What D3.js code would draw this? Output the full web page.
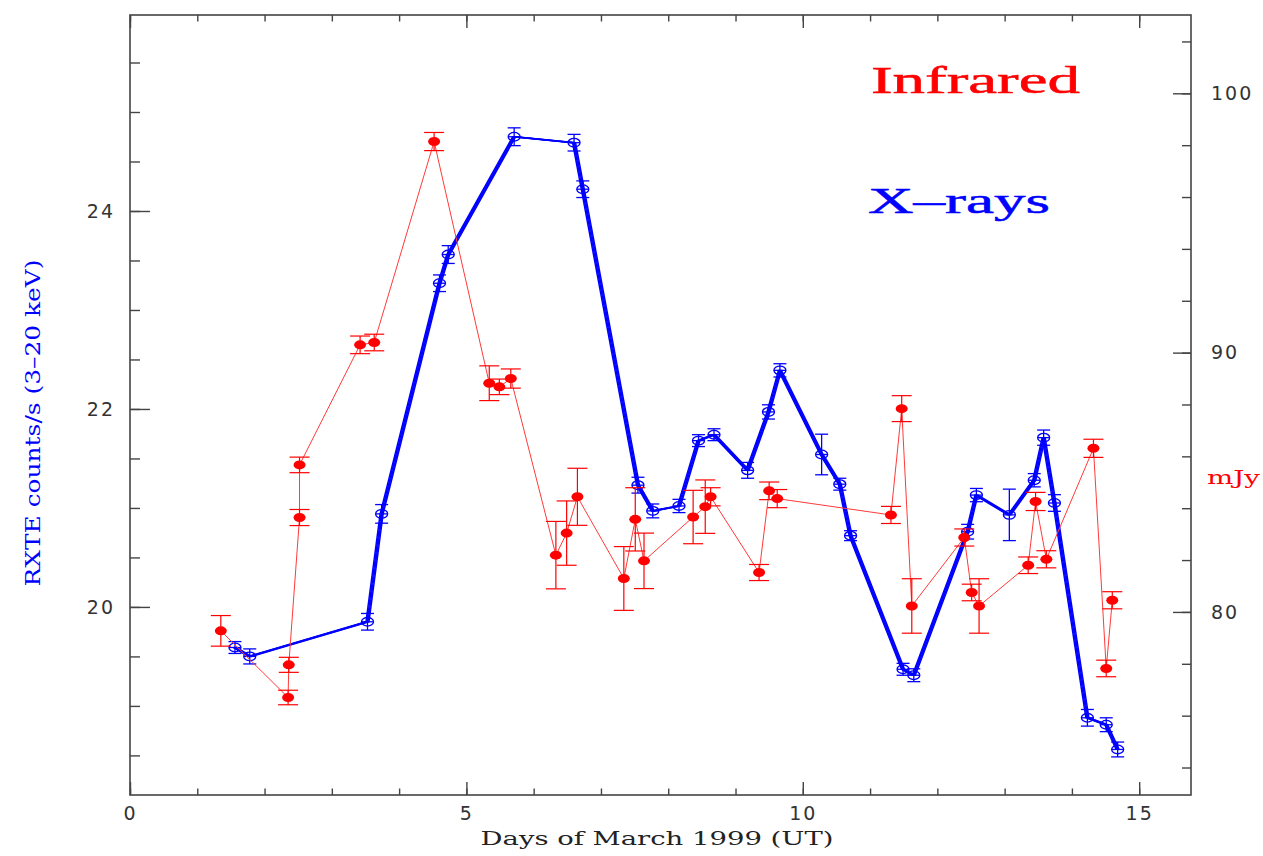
<!DOCTYPE html>
<html>
<head>
<meta charset="utf-8">
<script src="https://cdn.jsdelivr.net/npm/d3@7"></script>
<style>
  html, body { margin: 0; padding: 0; background: #fff; }
  svg { display: block; }
</style>
</head>
<body>
<svg id="chart"></svg>
<script>
// X-ray light curve (left axis, RXTE counts/s)
const xrayDay  = [1.56, 1.78, 3.53, 3.74, 4.60, 4.73, 5.71, 6.60, 6.73, 7.55, 7.77, 8.16, 8.45, 8.68, 9.18, 9.49,
                  9.66, 10.28, 10.55, 10.71, 11.49, 11.65, 12.45, 12.58, 13.07, 13.44, 13.58, 13.74, 14.23, 14.51, 14.68];
const xrayRate = [19.59, 19.50, 19.85, 20.94, 23.27, 23.56, 24.75, 24.69, 24.22, 21.23, 20.97, 21.02, 21.68, 21.74, 21.38, 21.97,
                  22.39, 21.54, 21.24, 20.72, 19.37, 19.31, 20.76, 21.13, 20.93, 21.28, 21.71, 21.05, 18.88, 18.81, 18.56];
const xrayErr  = [0.06, 0.076, 0.084, 0.094, 0.084, 0.09, 0.09, 0.084, 0.084, 0.08, 0.07, 0.067, 0.06, 0.06, 0.08, 0.072,
                  0.067, 0.205, 0.06, 0.05, 0.06, 0.065, 0.074, 0.067, 0.26, 0.067, 0.077, 0.084, 0.084, 0.07, 0.075];

// Infrared light curve (right axis, mJy)
const irDay  = [1.35, 2.35, 2.36, 2.52, 2.52, 3.42, 3.63, 4.52, 5.34, 5.49, 5.66, 6.33, 6.49, 6.65, 7.34, 7.51, 7.64, 8.37,
                8.55, 8.63, 9.35, 9.50, 9.62, 11.31, 11.47, 11.62, 12.40, 12.51, 12.62, 13.35, 13.46, 13.62, 14.32, 14.51, 14.60];
const irFlux = [79.27, 76.70, 77.96, 83.64, 85.67, 90.30, 90.39, 98.14, 88.82, 88.68, 89.00, 82.19, 83.04, 84.44, 81.29, 83.57, 81.97, 83.66,
                84.06, 84.44, 81.52, 84.67, 84.37, 83.74, 87.84, 80.23, 82.87, 80.75, 80.23, 81.80, 84.26, 82.03, 86.31, 77.82, 80.45];
const irErr  = [0.59, 0.28, 0.29, 0.31, 0.30, 0.34, 0.32, 0.35, 0.67, 0.30, 0.37, 1.30, 1.24, 1.10, 1.23, 1.22, 1.07, 1.03,
                1.03, 0.35, 0.31, 0.34, 0.35, 0.33, 0.50, 1.05, 0.33, 0.32, 1.05, 0.32, 0.35, 0.33, 0.35, 0.32, 0.33];

// Ticks
const dayMajor = [0, 5, 10, 15];
const dayMinor = d3.range(0, 16);
const rateMajor = [20, 22, 24];
const rateMinor = d3.range(18.5, 26, 0.5);
const fluxMajor = [80, 90, 100];
const fluxMinor = d3.range(74, 104, 2);

// Layout
const W = 1263, H = 856;
const plot = { left: 130, right: 1191, top: 15, bottom: 795 };

const svg = d3.select('#chart').attr('width', W).attr('height', H);

const x = d3.scaleLinear().domain([0, 15.77]).range([plot.left, plot.right]);
const yL = d3.scaleLinear().domain([18.1, 25.98]).range([plot.bottom, plot.top]);
const yR = d3.scaleLinear().domain([72.94, 103.02]).range([plot.bottom, plot.top]);

const axisColor = '#444';
const tickFont = '"DejaVu Sans", sans-serif';
const labelFont = '"DejaVu Serif", serif';

// Рамка
svg.append('rect')
    .attr('x', plot.left).attr('y', plot.top)
    .attr('width', plot.right - plot.left).attr('height', plot.bottom - plot.top)
    .attr('fill', 'none').attr('stroke', axisColor).attr('stroke-width', 1.6);

// Оси: малые и большие деления отдельно
function styleAxis(g) {
    g.select('.domain').remove();
    g.selectAll('line').attr('stroke', axisColor).attr('stroke-width', 1.4);
    g.selectAll('text')
        .attr('fill', '#333')
        .style('font-family', tickFont)
        .style('font-size', '19px')
        .style('letter-spacing', '2px');
}

const noLabel = () => '';

svg.append('g').attr('transform', `translate(0,${plot.bottom})`)
    .call(d3.axisBottom(x).tickValues(dayMinor).tickSizeInner(-6.5).tickSizeOuter(0).tickFormat(noLabel))
    .call(styleAxis);
svg.append('g').attr('transform', `translate(0,${plot.bottom})`)
    .call(d3.axisBottom(x).tickValues(dayMajor).tickSizeInner(-13).tickSizeOuter(0).tickPadding(12).tickFormat(d3.format('d')))
    .call(styleAxis);

svg.append('g').attr('transform', `translate(0,${plot.top})`)
    .call(d3.axisTop(x).tickValues(dayMinor).tickSizeInner(-6.5).tickSizeOuter(0).tickFormat(noLabel))
    .call(styleAxis);
svg.append('g').attr('transform', `translate(0,${plot.top})`)
    .call(d3.axisTop(x).tickValues(dayMajor).tickSizeInner(-13).tickSizeOuter(0).tickFormat(noLabel))
    .call(styleAxis);

svg.append('g').attr('transform', `translate(${plot.left},0)`)
    .call(d3.axisLeft(yL).tickValues(rateMinor).tickSizeInner(-10).tickSizeOuter(0).tickFormat(noLabel))
    .call(styleAxis);
svg.append('g').attr('transform', `translate(${plot.left},0)`)
    .call(d3.axisLeft(yL).tickValues(rateMajor).tickSizeInner(-20).tickSizeOuter(0).tickPadding(15).tickFormat(d3.format('d')))
    .call(styleAxis);

svg.append('g').attr('transform', `translate(${plot.right},0)`)
    .call(d3.axisRight(yR).tickValues(fluxMinor).tickSizeInner(-9).tickSizeOuter(0).tickFormat(noLabel))
    .call(styleAxis);
svg.append('g').attr('transform', `translate(${plot.right},0)`)
    .call(d3.axisRight(yR).tickValues(fluxMajor).tickSizeInner(-18).tickSizeOuter(0).tickPadding(20).tickFormat(d3.format('d')))
    .call(styleAxis);

// Рентген (синий)
const blue = '#0000ff', red = '#ff0000';
const xray = xrayDay.map((d, i) => ({ t: d, v: xrayRate[i], e: xrayErr[i] }));
const ir = irDay.map((d, i) => ({ t: d, v: irFlux[i], e: irErr[i] }));

const lineL = d3.line().x(d => x(d.t)).y(d => yL(d.v));
const lineR = d3.line().x(d => x(d.t)).y(d => yR(d.v));

// толстая линия как в PGPLOT: несколько копий со сдвигом по x
const gX = svg.append('g');
[-1.5, -0.5, 0.5, 1.5].forEach(dx => {
    gX.append('path')
        .datum(xray)
        .attr('transform', `translate(${dx},0)`)
        .attr('d', lineL)
        .attr('fill', 'none')
        .attr('stroke', blue)
        .attr('stroke-width', 1.5)
        .attr('stroke-linejoin', 'round');
});

const xErr = gX.selectAll('g.xe').data(xray).enter().append('g').attr('class', 'xe');
xErr.append('line')
    .attr('x1', d => x(d.t)).attr('x2', d => x(d.t))
    .attr('y1', d => yL(d.v - d.e)).attr('y2', d => yL(d.v + d.e));
xErr.append('line')
    .attr('x1', d => x(d.t) - 6.5).attr('x2', d => x(d.t) + 6.5)
    .attr('y1', d => yL(d.v - d.e)).attr('y2', d => yL(d.v - d.e));
xErr.append('line')
    .attr('x1', d => x(d.t) - 6.5).attr('x2', d => x(d.t) + 6.5)
    .attr('y1', d => yL(d.v + d.e)).attr('y2', d => yL(d.v + d.e));
xErr.append('ellipse')
    .attr('cx', d => x(d.t)).attr('cy', d => yL(d.v))
    .attr('rx', 6).attr('ry', 4.3)
    .attr('fill', 'none');
xErr.append('line')
    .attr('x1', d => x(d.t) - 6).attr('x2', d => x(d.t) + 6)
    .attr('y1', d => yL(d.v)).attr('y2', d => yL(d.v));
xErr.selectAll('line, ellipse').attr('stroke', blue).attr('stroke-width', 1.3);

// Инфракрасный (красный)
const gI = svg.append('g');
gI.append('path')
    .datum(ir)
    .attr('d', lineR)
    .attr('fill', 'none')
    .attr('stroke', '#ff3a3a')
    .attr('stroke-width', 1);

const iErr = gI.selectAll('g.ie').data(ir).enter().append('g').attr('class', 'ie');
iErr.append('line')
    .attr('x1', d => x(d.t)).attr('x2', d => x(d.t))
    .attr('y1', d => yR(d.v - d.e)).attr('y2', d => yR(d.v + d.e));
iErr.append('line')
    .attr('x1', d => x(d.t) - 10).attr('x2', d => x(d.t) + 10)
    .attr('y1', d => yR(d.v - d.e)).attr('y2', d => yR(d.v - d.e));
iErr.append('line')
    .attr('x1', d => x(d.t) - 10).attr('x2', d => x(d.t) + 10)
    .attr('y1', d => yR(d.v + d.e)).attr('y2', d => yR(d.v + d.e));
iErr.selectAll('line').attr('stroke', red).attr('stroke-width', 1.2);
iErr.append('ellipse')
    .attr('cx', d => x(d.t)).attr('cy', d => yR(d.v))
    .attr('rx', 6).attr('ry', 4.5)
    .attr('fill', red);

// Подписи
svg.append('text')
    .attr('x', 657).attr('y', 845)
    .attr('text-anchor', 'middle')
    .attr('textLength', 353).attr('lengthAdjust', 'spacingAndGlyphs')
    .style('font-family', labelFont).style('font-size', '19px')
    .attr('fill', '#222')
    .text('Days of March 1999 (UT)');

svg.append('text')
    .attr('transform', 'translate(40,423) rotate(-90)')
    .attr('text-anchor', 'middle')
    .attr('textLength', 327).attr('lengthAdjust', 'spacingAndGlyphs')
    .style('font-family', labelFont).style('font-size', '20px')
    .attr('fill', blue)
    .text('RXTE counts/s (3\u201320 keV)');

svg.append('text')
    .attr('x', 1207).attr('y', 484)
    .attr('textLength', 53).attr('lengthAdjust', 'spacingAndGlyphs')
    .style('font-family', labelFont).style('font-size', '19px')
    .attr('fill', red)
    .text('mJy');

svg.append('text')
    .attr('x', 871).attr('y', 93)
    .attr('textLength', 209).attr('lengthAdjust', 'spacingAndGlyphs')
    .style('font-family', '"Liberation Serif", serif').style('font-size', '38px')
    .attr('fill', red).attr('stroke', red).attr('stroke-width', 0.5)
    .text('Infrared');

svg.append('text')
    .attr('x', 868).attr('y', 213)
    .attr('textLength', 182).attr('lengthAdjust', 'spacingAndGlyphs')
    .style('font-family', '"Liberation Serif", serif').style('font-size', '36px')
    .attr('fill', blue).attr('stroke', blue).attr('stroke-width', 0.5)
    .text('X\u2013rays');
</script>
</body>
</html>
